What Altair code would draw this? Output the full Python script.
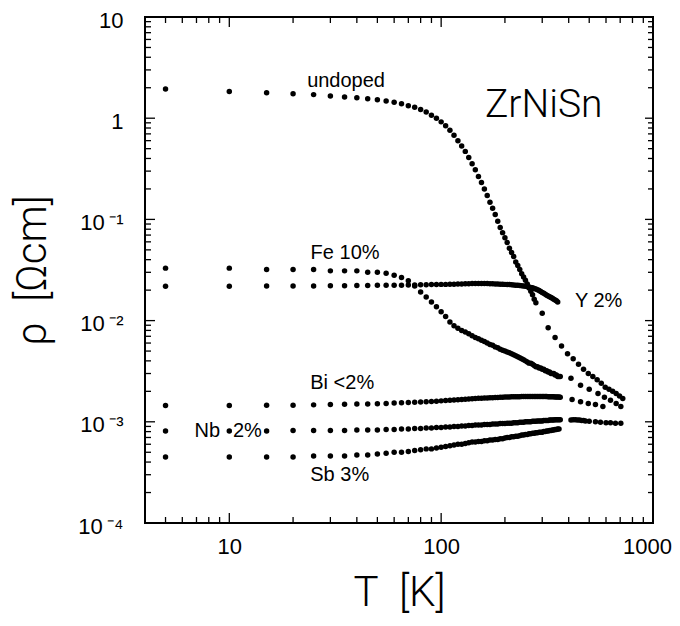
import altair as alt
import pandas as pd

# ---------------- data ----------------
T_LOW = [5, 10, 15, 20, 25, 30, 35, 40, 45, 50, 55, 60, 65, 70, 75, 80, 85, 90, 95, 100,
         105, 110, 115, 120, 125, 130, 135, 140, 145, 150, 155, 160, 165, 170, 175, 180,
         185, 190, 195, 200, 205, 210, 215, 220, 225, 230, 235, 240, 245, 250, 255, 260,
         265, 270, 275, 280, 285, 290, 295, 300, 305, 310, 315, 320, 325, 330, 335, 340,
         345, 350, 355, 360, 365]

RHO_UNDOPED = [1.94, 1.84, 1.78, 1.74, 1.71, 1.66, 1.62, 1.59, 1.56, 1.52,
               1.48, 1.44, 1.39, 1.33, 1.28, 1.22, 1.15, 1.07, 1.00, 0.92,
               0.84, 0.76, 0.68, 0.60, 0.53, 0.47, 0.41, 0.355, 0.31, 0.266,
               0.232, 0.200, 0.172, 0.148, 0.129, 0.112, 0.096, 0.083, 0.074, 0.066,
               0.059, 0.052, 0.047, 0.043, 0.038, 0.035, 0.032, 0.029, 0.027, 0.025,
               0.023, 0.021, 0.0195, 0.018, 0.0163, 0.015]
T_UNDOPED_HT = [300, 320, 345, 370, 395, 420, 445, 470, 495, 520, 545, 570, 595, 620, 645, 670, 695, 720]
RHO_UNDOPED_HT = [0.0118, 0.0085, 0.0068, 0.0056, 0.0047, 0.0042, 0.0037, 0.0033, 0.0030,
                  0.0028, 0.0026, 0.0024, 0.0022, 0.0021, 0.0020, 0.0019, 0.0018, 0.0017]

RHO_FE = [0.033, 0.033, 0.032, 0.032, 0.032, 0.031, 0.031, 0.031, 0.030, 0.030,
          0.0293, 0.028, 0.0267, 0.0247, 0.022, 0.0192, 0.0171, 0.0153, 0.0137, 0.0122,
          0.0110, 0.0097, 0.0089, 0.0084, 0.0080, 0.0077, 0.0074, 0.0071, 0.0068, 0.0066,
          0.0064, 0.0062, 0.0060, 0.0058, 0.0057, 0.0055, 0.0054, 0.0052, 0.0051, 0.0050,
          0.0049, 0.0048, 0.0047, 0.0046, 0.0045, 0.0044, 0.0043, 0.0042, 0.0041, 0.0040,
          0.0039, 0.0038, 0.0038, 0.0037, 0.0036, 0.0035, 0.0035, 0.0034, 0.0034, 0.0033,
          0.0033, 0.0032, 0.0032, 0.0031, 0.0031, 0.0030, 0.0030, 0.0030, 0.0029, 0.0029,
          0.0028, 0.0028, 0.0028]
T_FE_HT = [410, 455, 500, 550, 590, 630, 670, 705]
RHO_FE_HT = [0.0027, 0.0023, 0.0021, 0.0019, 0.00175, 0.00163, 0.00152, 0.00142]

RHO_Y = [0.0219, 0.0219, 0.0220, 0.0220, 0.0220, 0.0221,
         0.0221, 0.0222, 0.0222, 0.0223, 0.0223, 0.0224, 0.0224, 0.0225, 0.0225, 0.0226,
         0.0226, 0.0227, 0.0227, 0.0228,
         0.0228, 0.0229, 0.0229, 0.0230, 0.0230, 0.0231, 0.0231, 0.0232, 0.0232, 0.0232,
         0.0232, 0.0232, 0.0232, 0.0231, 0.0231, 0.0230, 0.0230, 0.0229, 0.0229, 0.0228,
         0.0227, 0.0227, 0.0226, 0.0225, 0.0224, 0.0223, 0.0222, 0.0221, 0.0220, 0.0219,
         0.0217, 0.0215, 0.0213, 0.0211, 0.0208, 0.0205, 0.0202, 0.0198, 0.0194, 0.0190,
         0.0186, 0.0182, 0.0178, 0.0175, 0.0172, 0.0169, 0.0166, 0.0163, 0.0160, 0.0157,
         0.0153]

RHO_BI = [0.00145, 0.00145, 0.00146, 0.00146, 0.00147, 0.00148, 0.00149, 0.00150, 0.00150, 0.00151,
          0.00152, 0.00153, 0.00154, 0.00155, 0.00156, 0.00157, 0.00158, 0.00159, 0.00160, 0.00161,
          0.00162, 0.00163, 0.00164, 0.00165, 0.00166, 0.00167, 0.00168, 0.00169, 0.00170, 0.00171,
          0.00171, 0.00172, 0.00172, 0.00173, 0.00173, 0.00174, 0.00174, 0.00175, 0.00175, 0.00176,
          0.00176, 0.00176, 0.00177, 0.00177, 0.00177, 0.00177, 0.00177, 0.00178, 0.00178, 0.00178,
          0.00178, 0.00178, 0.00178, 0.00178, 0.00178, 0.00178, 0.00178, 0.00178, 0.00178, 0.00178,
          0.00178, 0.00178, 0.00178, 0.00177, 0.00177, 0.00177, 0.00177, 0.00177, 0.00176, 0.00176,
          0.00176, 0.00176, 0.00175]
T_BI_HT = [415, 455, 495, 535, 580]
RHO_BI_HT = [0.00166, 0.00158, 0.00152, 0.00148, 0.00142]

RHO_NB = [0.00081, 0.00081, 0.00081, 0.00082, 0.00082, 0.00082, 0.00082, 0.00083, 0.00083, 0.00083,
          0.00084, 0.00084, 0.00085, 0.00085, 0.00086, 0.00086, 0.00087, 0.00087, 0.00088, 0.00088,
          0.00089, 0.00089, 0.00090, 0.00090, 0.00091, 0.00091, 0.00092, 0.00092, 0.00093, 0.00093,
          0.00093, 0.00094, 0.00094, 0.00094, 0.00095, 0.00095, 0.00095, 0.00096, 0.00096, 0.00096,
          0.00097, 0.00097, 0.00097, 0.00098, 0.00098, 0.00098, 0.00099, 0.00099, 0.00099, 0.00100,
          0.00100, 0.00100, 0.00100, 0.00101, 0.00101, 0.00101, 0.00102, 0.00102, 0.00102, 0.00102,
          0.00103, 0.00103, 0.00103, 0.00103, 0.00104, 0.00104, 0.00104, 0.00104, 0.00105, 0.00105,
          0.00105, 0.00105, 0.00105]
T_NB_HT = [410, 420, 430, 440, 450, 460, 470, 480, 500, 535, 565, 600, 630, 665, 705]
RHO_NB_HT = [0.00104, 0.00105, 0.00105, 0.00104, 0.00104, 0.00103, 0.00103, 0.00102,
             0.00101, 0.00100, 0.00099, 0.00098, 0.00098, 0.00097, 0.00097]

RHO_SB = [0.00045, 0.00045, 0.00045, 0.00045, 0.00046, 0.00046, 0.00046, 0.00047, 0.00047, 0.00048,
          0.00049, 0.00050, 0.00050, 0.00051, 0.00052, 0.00053, 0.00054, 0.00054, 0.00055, 0.00056,
          0.00057, 0.00058, 0.00059, 0.00060, 0.00060, 0.00061, 0.00062, 0.00063, 0.00063, 0.00064,
          0.00064, 0.00065, 0.00065, 0.00066, 0.00066, 0.00067, 0.00067, 0.00068, 0.00068, 0.00069,
          0.00070, 0.00070, 0.00071, 0.00071, 0.00072, 0.00072, 0.00073, 0.00074, 0.00074, 0.00075,
          0.00075, 0.00076, 0.00076, 0.00077, 0.00077, 0.00078, 0.00078, 0.00079, 0.00079, 0.00079,
          0.00080, 0.00080, 0.00081, 0.00081, 0.00082, 0.00082, 0.00083, 0.00083, 0.00084, 0.00084,
          0.00085, 0.00085]

# annotation labels (text, T, rho)
LABELS = ["undoped", "Fe 10%", "Y 2%", "Bi <2%", "2%", "Sb 3%"]
LABEL_T = [23.3, 24.2, 428, 24.1, 10.4, 24.1]
LABEL_RHO = [2.05, 0.0406, 0.0137, 0.00209, 0.000708, 0.00026]
NB_LABEL, NB_T, NB_RHO = "Nb", 9.04, 0.000708
TITLE_LABEL, TITLE_T, TITLE_RHO = "ZrNiSn", 161, 1.035

# axis ticks
X_MAJOR = [10, 100, 1000]
X_MINOR = [4, 5, 6, 7, 8, 9, 20, 30, 40, 50, 60, 70, 80, 90,
           200, 300, 400, 500, 600, 700, 800, 900]
Y_MAJOR = [1e-4, 1e-3, 1e-2, 1e-1, 1, 10]
Y_MINOR = [m * d for d in [1e-4, 1e-3, 1e-2, 1e-1, 1] for m in [2, 3, 4, 5, 6, 7, 8, 9]]

# ---------------- build tables ----------------
rows = []
def add(ts, rs, name):
    assert len(ts) == len(rs), name
    for t, r in zip(ts, rs):
        rows.append({"T": t, "rho": r, "series": name})

add(T_LOW[:len(RHO_UNDOPED)], RHO_UNDOPED, "undoped")
add(T_UNDOPED_HT, RHO_UNDOPED_HT, "undoped")
add(T_LOW[:len(RHO_FE)], RHO_FE, "Fe")
add(T_FE_HT, RHO_FE_HT, "Fe")
add(T_LOW[:len(RHO_Y)], RHO_Y, "Y")
add(T_LOW[:len(RHO_BI)], RHO_BI, "Bi")
add(T_BI_HT, RHO_BI_HT, "Bi")
add(T_LOW[:len(RHO_NB)], RHO_NB, "Nb")
add(T_NB_HT, RHO_NB_HT, "Nb")
add(T_LOW[:len(RHO_SB)], RHO_SB, "Sb")
df = pd.DataFrame(rows)

W, H = 508, 506
xs = alt.Scale(type="log", domain=[4, 1000], nice=False)
ys = alt.Scale(type="log", domain=[1e-4, 10], nice=False)
FONT = "Liberation Sans"
TFONT = "Roboto"
SP = "\u00a0\u00a0"

x_axis = alt.Axis(values=X_MAJOR, format="d", ticks=False, tickSize=0, domain=False, grid=False,
                  labelFlush=False, labelOverlap=False,
                  labelOffset={"condition": {"test": "datum.value >= 1000", "value": -6}, "value": 0},
                  labelFont=FONT, labelFontSize=22, labelColor="black", labelPadding=13,
                  title="T" + SP + "[K]", titleFont=TFONT, titleFontWeight=300, titleFontSize=42,
                  titleColor="black", titleX=W / 2, titleY=82, titleBaseline="alphabetic",
                  titleAlign="center")
y_axis = alt.Axis(values=Y_MAJOR, ticks=False, tickSize=0, domain=False, grid=False,
                  labelFlush=False, labelOverlap=False, labelOffset=3,
                  labelFont=FONT, labelFontSize=22, labelColor="black", labelPadding=22,
                  labelExpr="datum.value >= 10 ? '10' : (datum.value >= 1 ? '1' : '10\u2009' + ['', '\u207b\u00b9', '\u207b\u00b2', '\u207b\u00b3', '\u207b\u2074'][round(-log(datum.value) / LN10)])",
                  title="\u03c1" + SP + "[\u03a9cm]", titleFont=TFONT, titleFontWeight=300, titleFontSize=42,
                  titleColor="black", titleAngle=270, titleX=-100, titleY=H / 2,
                  titleBaseline="alphabetic", titleAlign="center")

def X(field):
    return alt.X(field, scale=xs, axis=x_axis)

def Y(field):
    return alt.Y(field, scale=ys, axis=y_axis)

points = alt.Chart(df).mark_point(filled=True, shape="circle", size=30, color="black",
                                  opacity=1, strokeWidth=0).encode(
    x=X("T:Q"), y=Y("rho:Q"),
)

def xticks(vals, y1, y2):
    return alt.Chart(pd.DataFrame({"T": vals})).mark_rule(color="black", strokeWidth=1.3).encode(
        x=X("T:Q"), y=alt.value(y1), y2=alt.value(y2))

def yticks(vals, x1, x2):
    return alt.Chart(pd.DataFrame({"rho": vals})).mark_rule(color="black", strokeWidth=1.3).encode(
        y=Y("rho:Q"), x=alt.value(x1), x2=alt.value(x2))

MAJ, MIN = 10, 6
tick_layers = [
    xticks(X_MAJOR, H, H - MAJ), xticks(X_MINOR, H, H - MIN),
    xticks(X_MAJOR, 0, MAJ), xticks(X_MINOR, 0, MIN),
    yticks(Y_MAJOR, 0, MAJ), yticks(Y_MINOR, 0, MIN),
    yticks(Y_MAJOR, W, W - MAJ + 2), yticks(Y_MINOR, W, W - MIN + 1),
]

lab_df = pd.DataFrame({"label": LABELS, "T": LABEL_T, "rho": LABEL_RHO})
labels = alt.Chart(lab_df).mark_text(align="left", baseline="alphabetic", font=FONT,
                                     fontSize=20, color="black").encode(
    x=X("T:Q"), y=Y("rho:Q"), text="label:N")

nb = alt.Chart(pd.DataFrame({"label": [NB_LABEL], "T": [NB_T], "rho": [NB_RHO]})).mark_text(
    align="right", baseline="alphabetic", font=FONT, fontSize=20, color="black").encode(
    x=X("T:Q"), y=Y("rho:Q"), text="label:N")

title = alt.Chart(pd.DataFrame({"label": [TITLE_LABEL], "T": [TITLE_T], "rho": [TITLE_RHO]})).mark_text(
    align="left", baseline="alphabetic", font=TFONT, fontWeight=300, fontSize=39, color="black").encode(
    x=X("T:Q"), y=Y("rho:Q"), text="label:N")

chart = alt.layer(points, *tick_layers, labels, nb, title).properties(
    width=W, height=H,
    autosize=alt.AutoSizeParams(type="none"),
    padding={"left": 137, "top": 9, "right": 19, "bottom": 95},
    background="white",
).configure_view(stroke="black", strokeWidth=2)

chart.save("out.html", embed_options={"renderer": "svg", "actions": False})
